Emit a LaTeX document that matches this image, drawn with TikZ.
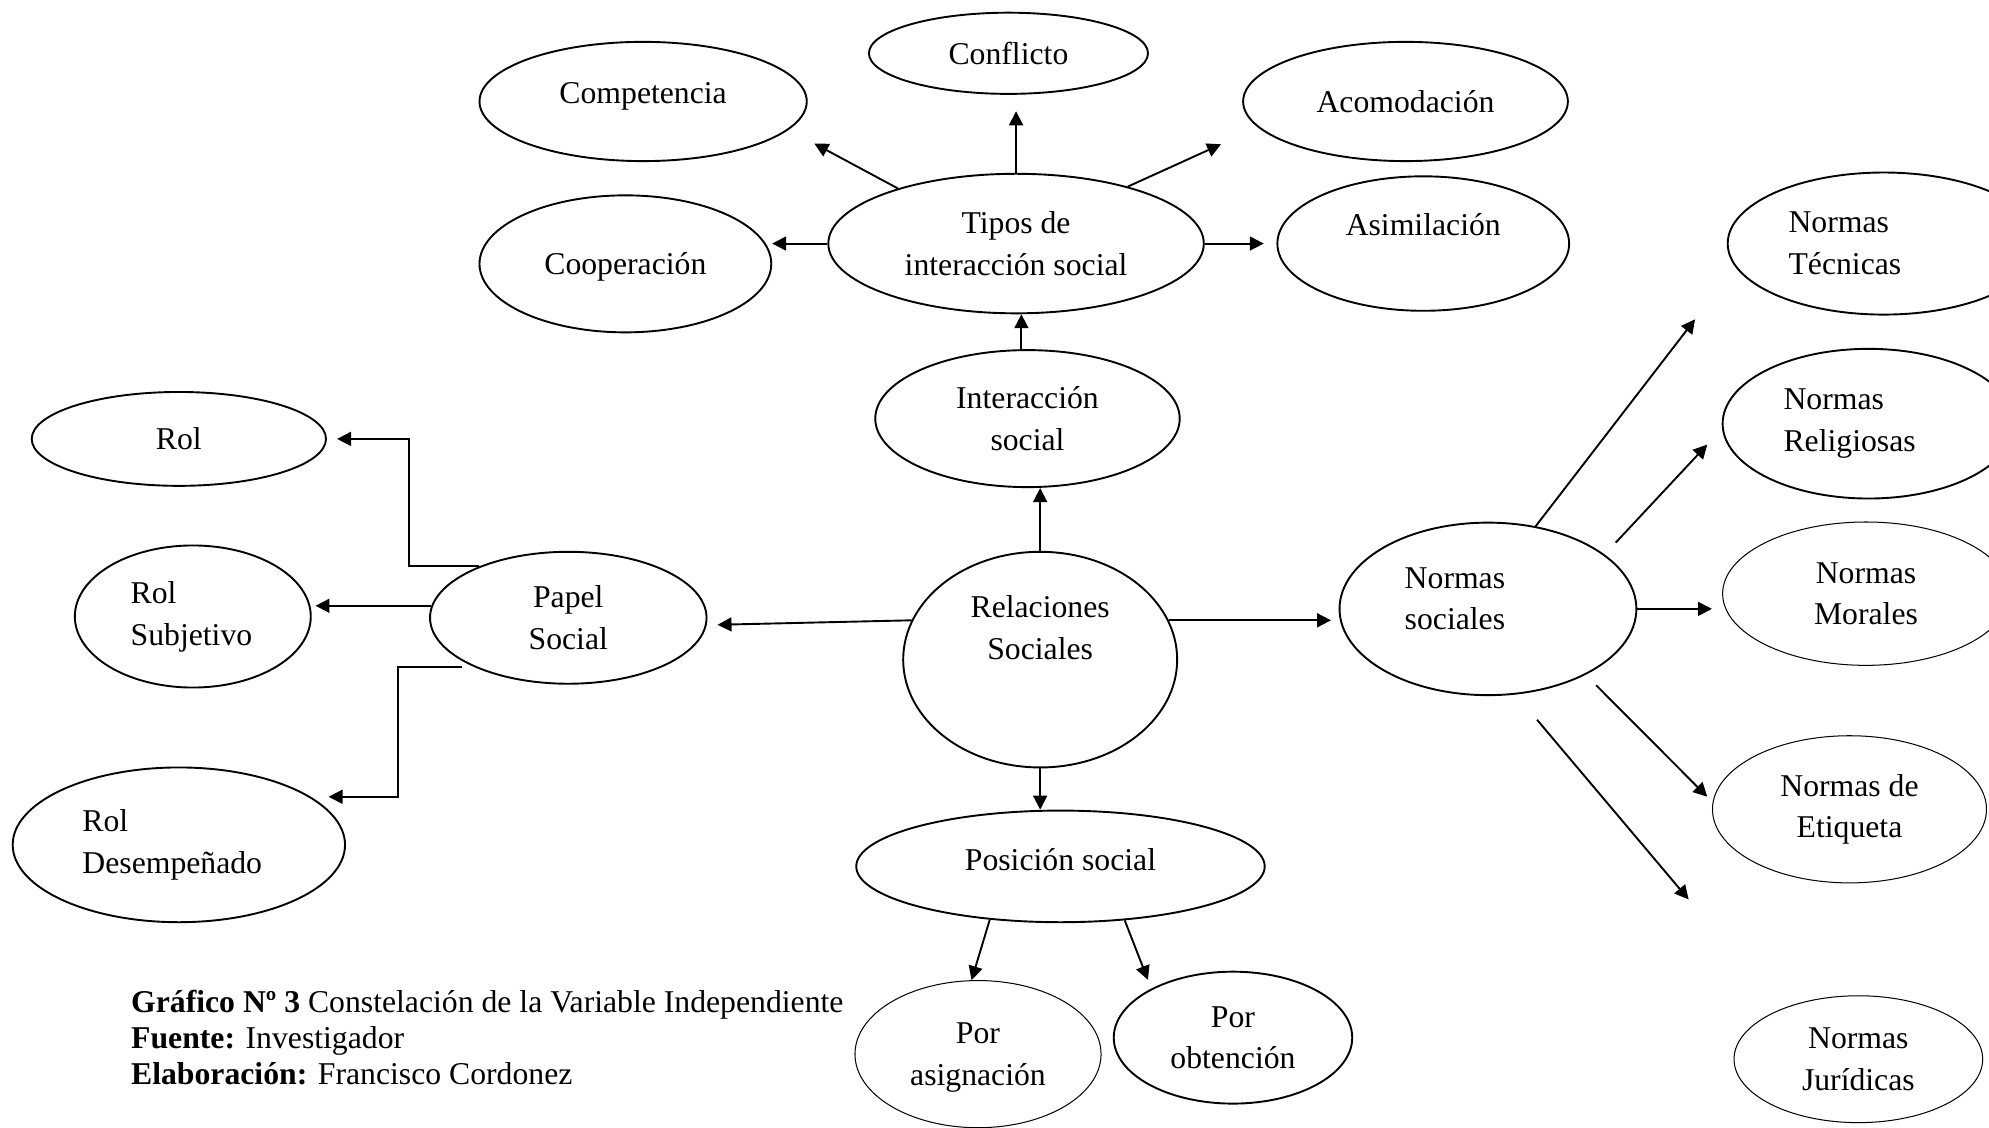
\documentclass[tikz,border=0pt]{standalone}
\usepackage{fontspec}
\setmainfont{Liberation Serif}
\usetikzlibrary{shapes.geometric, arrows.meta, calc}
\tikzstyle{concept}=[ellipse, draw, line width=0.75pt, inner sep=0, align=center]
\tikzstyle{faint}=[concept, line width=0.4pt]
\tikzstyle{flat}=[text depth=0pt]
\tikzstyle{link}=[-{Triangle[length=5.5pt, width=5.5pt]}, line width=0.75pt]

\begin{document}
\begin{tikzpicture}[x=0.5pt, y=-0.5pt, font=\fontsize{12.5}{16.5}\selectfont]
\useasboundingbox (0, 0) rectangle (1568, 889);

% tipos de interaccion
\node [concept, minimum width=110pt, minimum height=32pt] (conflicto) at (795, 42) {Conflicto};
\node [concept, minimum width=129pt, minimum height=47pt] (competencia) at (507, 80) {};
\node (competencia-t) at (507, 76) {Competencia};
\node [concept, minimum width=128pt, minimum height=47pt] (acomodacion) at (1108, 80) {Acomodación};
\node [concept, flat, minimum width=148pt, minimum height=55pt] (tipos) at (801, 192) {Tipos de\\interacción social};
\node [concept, flat, minimum width=115pt, minimum height=54pt] (cooperacion) at (493, 208) {Cooperación};
\node [concept, minimum width=115pt, minimum height=53pt] (asimilacion) at (1122, 192) {};
\node (asimilacion-t) at (1122, 177) {Asimilación};
\node [concept, flat, minimum width=120pt, minimum height=54pt] (interaccion) at (810, 330) {Interacción\\social};

% papel social
\node [concept, minimum width=116pt, minimum height=37pt] (rol) at (141, 346) {Rol};
\node [concept, minimum width=93pt, minimum height=56pt, text width=49pt, align=left] (rolsub) at (152, 486) {Rol\\Subjetivo};
\node [concept, flat, minimum width=109pt, minimum height=52pt] (papel) at (448, 487) {Papel\\Social};
\node [concept, minimum width=131pt, minimum height=61pt, text width=76pt, align=left] (roldes) at (141, 666) {Rol\\Desempeñado};

% centro
\node [concept, minimum width=108pt, minimum height=85pt] (relaciones) at (820, 520) {};
\node [align=center] (relaciones-t) at (820, 495) {Relaciones\\Sociales};
\node [concept, minimum width=161pt, minimum height=44pt] (posicion) at (836, 683) {};
\node (posicion-t) at (836, 678) {Posición social};
\node [faint, flat, minimum width=97pt, minimum height=58pt] (asignacion) at (771, 831) {Por\\asignación};
\node [concept, flat, minimum width=94pt, minimum height=52pt] (obtencion) at (972, 818) {Por\\obtención};

% normas
\node [concept, minimum width=117pt, minimum height=68pt] (nsoc) at (1173, 480) {};
\node [align=left, anchor=west, inner sep=0] (nsoc-t) at (1107, 472) {Normas\\sociales};
\node [concept, minimum width=123pt, minimum height=56pt, text width=75pt, align=left] (tecnicas) at (1485, 192) {Normas\\Técnicas};
\node [concept, minimum width=115pt, minimum height=59pt, text width=67pt, align=left] (religiosas) at (1473, 334) {Normas\\Religiosas};
\node [faint, flat, minimum width=113pt, minimum height=56.5pt] (morales) at (1471, 468) {Normas\\Morales};
\node [faint, minimum width=108pt, minimum height=58pt] (etiqueta) at (1458, 638) {Normas de\\Etiqueta};
\node [faint, flat, minimum width=98pt, minimum height=50pt] (juridicas) at (1465, 835) {Normas\\Jurídicas};

\node [anchor=west, align=left, inner sep=0, font=\fontsize{12.5}{14.25}\selectfont] (fuente) at (103, 818)
  {\textbf{Gráfico Nº 3} Constelación de la Variable Independiente\\\textbf{Fuente:} Investigador\\\textbf{Elaboración:} Francisco Cordonez};

% flechas
\draw [link, shorten >=11.5pt] (tipos.155) -- (competencia.-11);
\draw [link, shorten >=6.5pt] (tipos.north) -- (tipos.north |- conflicto.south);
\draw [link, shorten >=16pt] (tipos.27) -- (acomodacion.190);
\draw [link] (tipos.west) -- (tipos.west -| cooperacion.east);
\draw [link, shorten >=5pt] (tipos.east) -- (asimilacion.west);
\draw [link] (interaccion.95) -- (interaccion.95 |- tipos.south);
\draw [link] (relaciones.north) -- (relaciones.north |- interaccion.south);

\draw [link, shorten >=4.3pt] (relaciones.163) -- (papel.-3);
\draw [link, shorten >=3pt] (relaciones.17) -- (relaciones.17 -| nsoc.west);
\draw [link] (relaciones.south) -- (relaciones.south |- posicion.north);
\draw [link] (posicion.217) -- (asignacion.95);
\draw [link, shorten >=3.7pt] (posicion.-40) -- (obtencion.149);

\draw [link, shorten >=4pt] (papel.150) -| ($(rol.east)+(65, 0)$) -- (rol.east);
\draw [link, shorten >=1.5pt] (papel.175) -- (papel.175 -| rolsub.east);
\draw [link, shorten <=5pt, shorten >=7pt] (papel.208) -| ($(roldes.20)+(69, 0)$) -- (roldes.20);

\draw [link, shorten >=26pt] (nsoc.60) -- (tecnicas.189);
\draw [link, shorten <=6.4pt, shorten >=8.5pt] (nsoc.25) -- (religiosas.182);
\draw [link, shorten >=4pt] (nsoc.east) -- (nsoc.east -| morales.west);
\draw [link, shorten <=5.8pt, shorten >=3pt] (nsoc.-34) -- (etiqueta.177);
\draw [link, shorten <=13pt, shorten >=56.5pt] (nsoc.-72) -- (juridicas.147);

\end{tikzpicture}
\end{document}
